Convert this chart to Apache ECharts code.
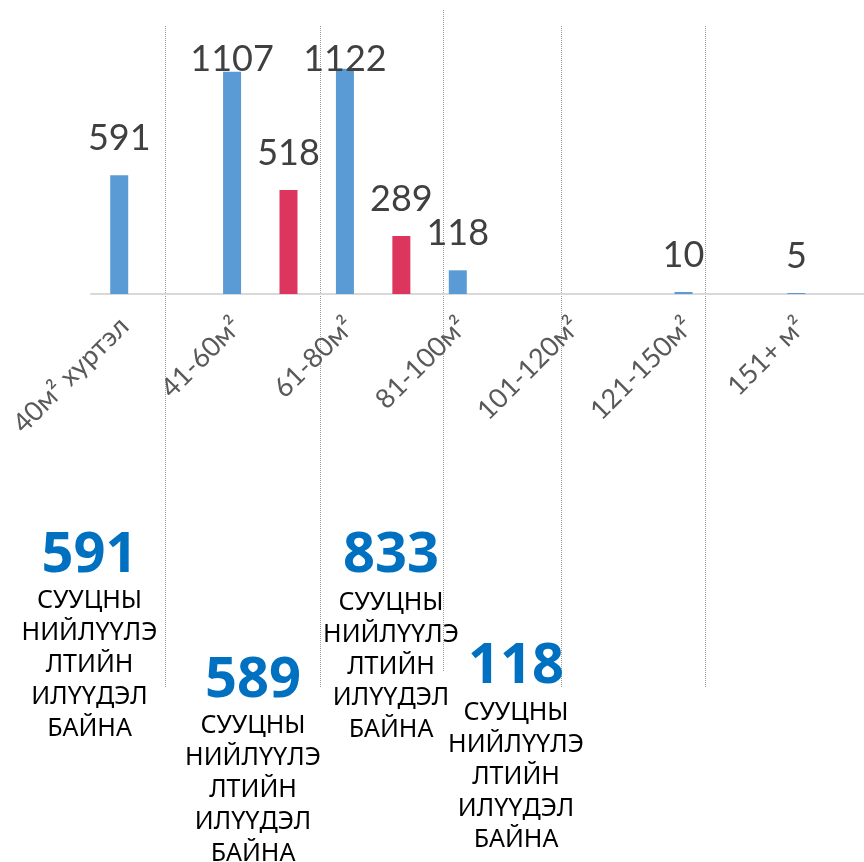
<!DOCTYPE html>
<html><head><meta charset="utf-8">
<script src="https://cdn.jsdelivr.net/npm/echarts@6/dist/echarts.min.js"></script>
<style>html,body{margin:0;padding:0;background:#fff}#c{width:864px;height:862px}</style>
</head><body><div id="c"></div>
<script>
// ---- data ----
const categories = ['40м² хуртэл', '41-60м²', '61-80м²', '81-100м²', '101-120м²', '121-150м²', '151+ м²'];
const blueValues = [591, 1107, 1122, 118, null, 10, 5];
// red bars sit between category i and category i+1
const redValues = [null, 518, 289, null, null, null, null];
const summaryValues = [591, 589, 833, 118];
const summaryLines = ['СУУЦНЫ', 'НИЙЛҮҮЛЭ', 'ЛТИЙН', 'ИЛҮҮДЭЛ', 'БАЙНА'];

// ---- build slot axis (each category + one in-between slot) ----
const slots = [], blueData = [], redData = [];
categories.forEach((c, i) => {
  slots.push(c); slots.push('');
  blueData.push(blueValues[i] == null ? '-' : blueValues[i]); blueData.push('-');
  redData.push('-'); redData.push(redValues[i] == null ? '-' : redValues[i]);
});

const LABEL_MIN_TOP = 41;
const valueLabel = {
  show: true, position: 'top', distance: 19,
  fontFamily: 'Lato', fontSize: 36, color: '#404040'
};
const clampLayout = function (p) {
  const r = p.labelRect;
  if (r && r.y < LABEL_MIN_TOP) return {dy: LABEL_MIN_TOP - r.y};
  return {};
};

// decorative dotted separators & summary text blocks
const sepLines = [
  {x: 165.5, y1: 26, y2: 687}, {x: 320.5, y1: 26, y2: 687}, {x: 443.5, y1: 10, y2: 672},
  {x: 561.5, y1: 26, y2: 687}, {x: 705.5, y1: 26, y2: 687}
];
const blockPos = [
  {cx: 89.5, nb: 574, lb: 610},
  {cx: 253, nb: 698.3, lb: 735},
  {cx: 391, nb: 573.5, lb: 611.5},
  {cx: 516, nb: 685, lb: 721.7}
];
const graphics = [];
sepLines.forEach(s => graphics.push({
  type: 'line', silent: true,
  shape: {x1: s.x, y1: s.y1, x2: s.x, y2: s.y2},
  style: {stroke: '#9a9a9a', lineWidth: 1, lineDash: [1, 1]}
}));
summaryValues.forEach((v, i) => {
  const p = blockPos[i];
  graphics.push({
    type: 'text', silent: true, x: p.cx, y: p.nb - 17.7,
    style: {text: String(v), align: 'center', verticalAlign: 'middle',
      fontFamily: 'Noto Sans', fontWeight: 'bold', fontSize: 56, fill: '#0070C0'}
  });
  graphics.push({
    type: 'text', silent: true, x: p.cx, y: p.lb - 24.6,
    style: {text: summaryLines.join('\n'), align: 'center', verticalAlign: 'top',
      fontFamily: 'Noto Sans', fontSize: 25, lineHeight: 31.8, fill: '#000000'}
  });
});

const chart = echarts.init(document.getElementById('c'), null, {renderer: 'canvas'});
chart.setOption({
  animation: false,
  backgroundColor: '#ffffff',
  grid: {left: 91, top: 33, width: 790, height: 261, outerBoundsMode: 'none', containLabel: false},
  xAxis: {
    type: 'category', data: slots, boundaryGap: true,
    axisLine: {show: true, lineStyle: {color: '#d9d9d9', width: 2}},
    axisTick: {show: false},
    splitLine: {show: false},
    axisLabel: {
      interval: (i) => i % 2 === 0,
      rotate: 45, margin: 23,
      verticalAlign: 'top', lineHeight: 14,
      fontFamily: 'Lato', fontSize: 27, color: '#595959'
    }
  },
  yAxis: {type: 'value', min: 0, max: 1300, show: false, splitLine: {show: false}},
  series: [
    {name: 'blue', type: 'bar', data: blueData, barWidth: 18, barGap: '-100%',
      itemStyle: {color: '#5B9BD5'}, label: valueLabel, labelLayout: clampLayout},
    {name: 'red', type: 'bar', data: redData, barWidth: 18, barGap: '-100%',
      itemStyle: {color: '#DC365E'}, label: valueLabel, labelLayout: clampLayout}
  ],
  graphic: graphics
});
</script>
</body></html>
